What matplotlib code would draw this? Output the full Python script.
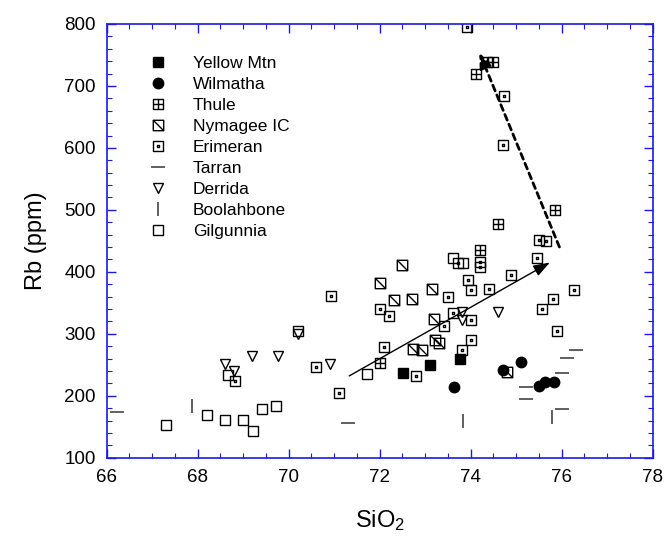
import numpy as np
import matplotlib
matplotlib.use("Agg")
import matplotlib.pyplot as plt
from matplotlib.path import Path
from matplotlib.ticker import MultipleLocator

plt.rcParams['font.family'] = ['Liberation Sans', 'DejaVu Sans']
plt.rcParams['mathtext.fontset'] = 'custom'
plt.rcParams['mathtext.rm'] = 'Liberation Sans'
plt.rcParams['mathtext.it'] = 'Liberation Sans'

# data (SiO2 wt%, Rb ppm)
yellow_x = [72.52, 73.11, 73.77]
yellow_y = [236, 250, 259]
wilmatha_x = [73.64, 74.70, 75.10, 75.50, 75.63, 75.82]
wilmatha_y = [214, 241, 255, 215, 222, 222]
thule_x = [74.11, 74.35, 74.50, 75.85, 74.61, 74.20, 72.01]
thule_y = [720, 738, 738, 500, 477, 435, 253]
nymagee_x = [72.50, 72.01, 72.31, 72.70, 73.14, 73.20, 73.22, 73.30, 72.74, 72.92, 74.80]
nymagee_y = [411, 382, 355, 356, 372, 324, 290, 285, 276, 274, 239]
erimeran_x = [70.92, 72.01, 72.20, 73.50, 73.95, 74.01, 74.40, 73.71, 74.20, 74.20, 73.60,
              73.41, 74.01, 74.00, 73.80, 72.10, 72.80, 71.11, 70.60, 75.46, 74.89, 76.26,
              75.80, 75.57, 75.90, 73.91, 74.74, 74.70, 75.50, 75.65, 68.82]
erimeran_y = [361, 340, 329, 360, 387, 371, 373, 414, 416, 407, 334,
              313, 323, 290, 274, 278, 232, 204, 247, 422, 395, 370,
              356, 340, 304, 795, 684, 604, 451, 450, 224]
tarran_x = [66.22, 71.30, 76.31, 76.11, 76.01, 75.21, 75.21, 76.01]
tarran_y = [174, 156, 274, 261, 237, 214, 195, 179]
derrida_x = [68.60, 68.80, 69.20, 69.77, 70.20, 70.91, 73.80, 73.80, 74.61]
derrida_y = [251, 240, 264, 264, 300, 251, 335, 323, 335]
boolah_x = [67.88, 73.82, 75.79]
boolah_y = [184, 159, 166]
gilg_x = [67.30, 68.21, 68.60, 69.00, 69.21, 69.41, 69.71, 68.67, 70.20, 71.71, 73.60, 73.84]
gilg_y = [153, 169, 161, 161, 143, 178, 183, 233, 304, 235, 423, 414]

# arrows: (start, end)
trend_start, trend_end = (71.33, 232), (75.74, 415)
dash_start, dash_end = (75.95, 440), (74.19, 754)

M, L, C = Path.MOVETO, Path.LINETO, Path.CLOSEPOLY
sq_v = [(-1, -1), (1, -1), (1, 1), (-1, 1), (-1, -1)]
sq_c = [M, L, L, L, C]
thule_marker = Path(sq_v + [(0, -1), (0, 1), (-1, 0), (1, 0)], sq_c + [M, L, M, L])
nymagee_marker = Path(sq_v + [(-1, 1), (1, -1)], sq_c + [M, L])
d = 0.1
erim_marker = Path(sq_v + [(-d, -d), (d, -d), (d, d), (-d, d), (-d, -d)], sq_c + sq_c)

fig = plt.figure(figsize=(6.65, 5.45), dpi=100)
ax = fig.add_axes([0.1605, 0.1602, 0.821, 0.7958])

ms = 7.5
ew = 1.0
ax.plot(yellow_x, yellow_y, 's', color='black', ms=ms, ls='none', label='Yellow Mtn')
ax.plot(wilmatha_x, wilmatha_y, 'o', color='black', ms=ms, ls='none', label='Wilmatha')
ax.plot(thule_x, thule_y, marker=thule_marker, mfc='none', mec='black', mew=ew, ms=ms, ls='none', label='Thule')
ax.plot(nymagee_x, nymagee_y, marker=nymagee_marker, mfc='none', mec='black', mew=ew, ms=ms, ls='none', label='Nymagee IC')
ax.plot(erimeran_x, erimeran_y, marker=erim_marker, mfc='none', mec='black', mew=ew, ms=ms, ls='none', label='Erimeran')
ax.plot(tarran_x, tarran_y, '_', color='#444444', mew=1.2, ms=10, ls='none', label='Tarran')
ax.plot(derrida_x, derrida_y, 'v', mfc='none', mec='black', mew=ew, ms=ms, ls='none', label='Derrida')
ax.plot(boolah_x, boolah_y, '|', color='#444444', mew=1.2, ms=10, ls='none', label='Boolahbone')
ax.plot(gilg_x, gilg_y, 's', mfc='none', mec='black', mew=ew, ms=ms, ls='none', label='Gilgunnia')

ax.annotate('', xy=trend_end, xytext=trend_start,
            arrowprops=dict(arrowstyle='-|>,head_length=1.0,head_width=0.35', color='black',
                            lw=1.0, shrinkA=0, shrinkB=0))
ax.annotate('', xy=dash_end, xytext=dash_start,
            arrowprops=dict(arrowstyle='-|>,head_length=0.9,head_width=0.35', color='black',
                            lw=2.0, ls=(0, (2.2, 1.6)), shrinkA=0, shrinkB=0))

ax.set_xlim(66, 78)
ax.set_ylim(100, 800)
ax.xaxis.set_major_locator(MultipleLocator(2))
ax.xaxis.set_minor_locator(MultipleLocator(0.5))
ax.yaxis.set_major_locator(MultipleLocator(100))
ax.yaxis.set_minor_locator(MultipleLocator(20))

blue = '#1a1ae6'
for s in ax.spines.values():
    s.set_color(blue)
    s.set_linewidth(1.2)
ax.tick_params(which='both', direction='in', top=True, right=True, color=blue,
               labelcolor='black', labelsize=13.5)
ax.tick_params(which='major', length=6.5, width=1.0, pad=8)
ax.tick_params(which='minor', length=3.5, width=0.8)

ax.set_xlabel('SiO$_2$', fontsize=17, labelpad=16)
ax.set_ylabel('Rb (ppm)', fontsize=17, labelpad=12)

ax.legend(loc='upper left', bbox_to_anchor=(0.078, 0.926), frameon=False, fontsize=12.5,
          handlelength=1.0, handletextpad=1.5, labelspacing=0.335, borderaxespad=0,
          borderpad=0)

fig.savefig('out.png', dpi=100)
